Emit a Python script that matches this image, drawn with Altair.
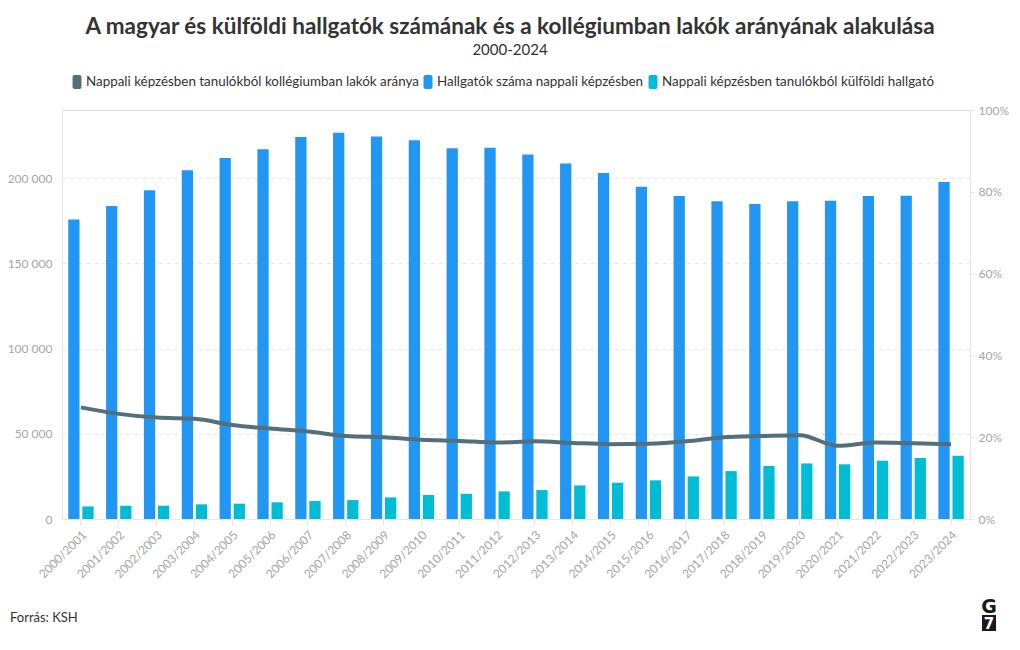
import altair as alt
import pandas as pd

years = ["2000/2001", "2001/2002", "2002/2003", "2003/2004", "2004/2005", "2005/2006",
         "2006/2007", "2007/2008", "2008/2009", "2009/2010", "2010/2011", "2011/2012",
         "2012/2013", "2013/2014", "2014/2015", "2015/2016", "2016/2017", "2017/2018",
         "2018/2019", "2019/2020", "2020/2021", "2021/2022", "2022/2023", "2023/2024"]

hallgatok = [175800, 183700, 192900, 204600, 211800, 216900, 224100, 226600, 224500, 222200,
             217500, 217800, 213900, 208600, 203100, 194900, 189500, 186500, 184800, 186400,
             186700, 189500, 189700, 197800]

kulfoldi = [7400, 7800, 7800, 8600, 9000, 9800, 10500, 11100, 12700, 14100, 14800, 16200,
            17000, 19700, 21300, 22700, 25000, 28100, 31100, 32600, 32100, 34200, 35800, 37100]

kollegium = [27.3, 25.7, 24.8, 24.5, 23.0, 22.1, 21.4, 20.3, 20.0, 19.4, 19.1, 18.7,
             19.0, 18.6, 18.3, 18.4, 19.0, 20.0, 20.3, 20.5, 17.9, 18.7, 18.5, 18.3]

s_line = "Nappali képzésben tanulókból kollégiumban lakók aránya"
s_blue = "Hallgatók száma nappali képzésben"
s_cyan = "Nappali képzésben tanulókból külföldi hallgató"
series_names = [s_line, s_blue, s_cyan]
series_colors = ["#546E7A", "#2196F3", "#00BCD4"]

title_text = "A magyar és külföldi hallgatók számának és a kollégiumban lakók arányának alakulása"
subtitle_text = "2000-2024"
source_text = "Forrás: KSH"

bars_df = pd.DataFrame({
    "year": years * 2,
    "series": [s_blue] * len(years) + [s_cyan] * len(years),
    "value": hallgatok + kulfoldi,
})
line_df = pd.DataFrame({"year": years, "pct": kollegium, "series": [s_line] * len(years)})

FONT = "Lato"
GRAY = "#a6a6a6"
LIGHT = "#e6e6e6"

symbol_path = ("M-0.64,-0.7 Q-0.64,-1 -0.34,-1 L0.34,-1 Q0.64,-1 0.64,-0.7 L0.64,0.7 "
               "Q0.64,1 0.34,1 L-0.34,1 Q-0.64,1 -0.64,0.7 Z")

color_scale = alt.Scale(domain=series_names, range=series_colors)

x_enc = alt.X("year:N", sort=years, title=None,
              scale=alt.Scale(paddingInner=0.33, paddingOuter=0.165),
              axis=alt.Axis(labelAngle=-45, labelColor=GRAY, labelFontSize=12, labelFont=FONT,
                            domainColor=LIGHT, tickColor=LIGHT, tickSize=6, labelPadding=4))

bars = alt.Chart(bars_df).mark_bar().encode(
    x=x_enc,
    xOffset=alt.XOffset("series:N", sort=[s_blue, s_cyan],
                        scale=alt.Scale(domain=[s_blue, s_cyan], paddingInner=0.2)),
    y=alt.Y("value:Q", title=None,
            scale=alt.Scale(domain=[0, 240000], nice=False),
            axis=alt.Axis(orient="left", values=[0, 50000, 100000, 150000, 200000],
                          labelExpr="replace(format(datum.value, ','), ',', ' ')",
                          labelColor=GRAY, labelFontSize=12, labelFont=FONT, labelPadding=10,
                          ticks=False, domain=True, domainColor=LIGHT,
                          grid=True, gridColor=LIGHT, gridDash=[4, 4])),
    color=alt.Color("series:N", scale=color_scale, title=None,
                    legend=alt.Legend(orient="none", legendX=8, legendY=-35, direction="horizontal",
                                      symbolType=symbol_path, symbolSize=196, symbolStrokeWidth=0,
                                      labelFont=FONT, labelFontSize=13.4, labelColor="#333333",
                                      labelOffset=2, columnPadding=2, labelLimit=500)),
)

line = alt.Chart(line_df).mark_line(interpolate="monotone", strokeWidth=4).encode(
    x=alt.X("year:N", sort=years),
    y=alt.Y("pct:Q", title=None,
            scale=alt.Scale(domain=[0, 100], nice=False),
            axis=alt.Axis(orient="right", values=[0, 20, 40, 60, 80, 100],
                          labelExpr="datum.value + '%'",
                          labelColor=GRAY, labelFontSize=12, labelFont=FONT, labelPadding=4,
                          ticks=True, tickSize=4, tickColor=LIGHT,
                          domain=True, domainColor=LIGHT, grid=False)),
    color=alt.Color("series:N", scale=color_scale, legend=None),
)

source = alt.Chart(pd.DataFrame({"t": [source_text]})).mark_text(
    align="left", baseline="alphabetic", font=FONT, fontSize=13, color="#333333"
).encode(text="t:N", x=alt.value(-52), y=alt.value(512))

logo_g = alt.Chart(pd.DataFrame({"t": ["G"]})).mark_text(
    align="center", baseline="alphabetic", font="DejaVu Sans", fontSize=19, fontWeight="bold",
    color="#1a1a1a"
).encode(text="t:N", x=alt.value(927), y=alt.value(503))

logo_box = alt.Chart(pd.DataFrame({"t": ["7"]})).mark_rect(color="#1a1a1a").encode(
    x=alt.value(920), x2=alt.value(934), y=alt.value(505), y2=alt.value(521))

logo_7 = alt.Chart(pd.DataFrame({"t": ["7"]})).mark_text(
    align="center", baseline="alphabetic", font="DejaVu Sans", fontSize=15, fontWeight="bold",
    color="#ffffff"
).encode(text="t:N", x=alt.value(927), y=alt.value(519))

chart = alt.layer(bars, line, source, logo_g, logo_box, logo_7).resolve_scale(
    y="independent"
).properties(
    width=908, height=409,
    autosize=alt.AutoSizeParams(type="none"),
    padding={"left": 54, "top": 102, "right": 42, "bottom": 130},
    title=alt.TitleParams(text=title_text, subtitle=subtitle_text, anchor="middle",
                          font=FONT, fontSize=22.5, fontWeight="bold", color="#333333",
                          subtitleFont=FONT, subtitleFontSize=15, subtitleColor="#333333",
                          subtitlePadding=5, offset=17, dx=-6),
).configure_view(strokeWidth=0).configure(background="#ffffff")

chart.save("out.html", embed_options={"renderer": "svg", "actions": False})
